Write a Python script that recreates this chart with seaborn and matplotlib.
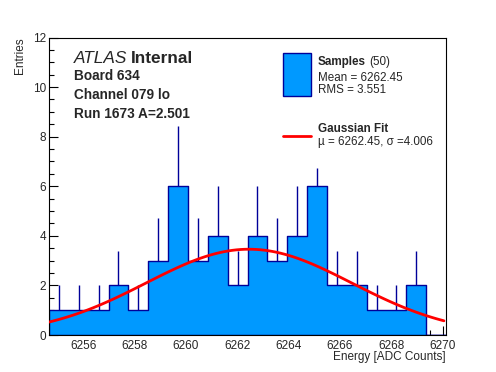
import numpy as np
import pandas as pd
import matplotlib
matplotlib.use("Agg")
import matplotlib.pyplot as plt
import seaborn as sns
from matplotlib.patches import Rectangle
from matplotlib.lines import Line2D
from matplotlib.ticker import MultipleLocator, ScalarFormatter

# ---------------- data ----------------
bin_low = 6254.66
bin_width = 0.7735
counts = [1, 1, 1, 2, 1, 3, 6, 3, 4, 2, 4, 3, 4, 6, 2, 2, 1, 1, 2, 0]
err_up = [1.0, 1.0, 1.0, 1.39, 1.0, 1.73, 2.43, 1.73, 2.0, 1.39,
          2.0, 1.73, 2.0, 0.75, 1.39, 1.39, 1.0, 1.0, 1.39, 0.0]
fit_mu = 6262.45
fit_sigma = 4.006
fit_amp = 3.46
x_max = 6270.13
x_ticks = [6256, 6258, 6260, 6262, 6264, 6266, 6268, 6270]
y_ticks = [0, 2, 4, 6, 8, 10, 12]

header_lines = ["Board 634", "Channel 079 lo", "Run 1673 A=2.501"]
legend_samples = ("Samples", "(50)", "Mean = 6262.45", "RMS = 3.551")
legend_fit = ("Gaussian Fit", "\u00b5 = 6262.45, \u03c3 =4.006")

FILL = "#0099ff"
EDGE = "#000099"

# ---------------- style ----------------
sns.set_style("ticks")
plt.rcParams["font.family"] = ["Liberation Sans", "DejaVu Sans"]

W, H = 496, 372
fig = plt.figure(figsize=(W / 100, H / 100), dpi=100)
ax = fig.add_axes([49 / W, 1 - 335 / H, 397 / W, 297.5 / H])


def fx(x):
    return x / W


def fy(y):
    return 1 - y / H


n = len(counts)
edges = bin_low + bin_width * np.arange(n + 1)
centers = (edges[:-1] + edges[1:]) / 2
df = pd.DataFrame({"energy": centers, "entries": counts, "err": err_up})

sns.histplot(data=df, x="energy", weights="entries", bins=n,
             binrange=(edges[0], edges[-1]),
             element="step", fill=True, color=FILL, edgecolor=EDGE,
             linewidth=1.0, alpha=1.0, ax=ax)

nz = df[df["entries"] > 0]
ax.vlines(nz["energy"], nz["entries"], nz["entries"] + nz["err"],
          color=EDGE, linewidth=1.0, zorder=3)

xs = np.linspace(bin_low, 6270.05, 100)
ys = fit_amp * np.exp(-0.5 * ((xs - fit_mu) / fit_sigma) ** 2)
sns.lineplot(x=xs, y=ys, color="red", linewidth=2.0, ax=ax, zorder=4,
             sort=False, estimator=None)

ax.set_xlim(bin_low, x_max)
ax.set_ylim(0, 12)
ax.set_xticks(x_ticks)
ax.set_yticks(y_ticks)
ax.xaxis.set_minor_locator(MultipleLocator(0.5))
ax.yaxis.set_minor_locator(MultipleLocator(0.5))
fmt = ScalarFormatter(useOffset=False)
ax.xaxis.set_major_formatter(fmt)
ax.tick_params(which="major", direction="in", length=6.5, width=0.8,
               labelsize=8.5, top=False, right=False, color="black")
ax.tick_params(which="minor", direction="in", length=3.3, width=0.8,
               top=False, right=False, color="black")
ax.tick_params(axis="x", which="major", pad=3.3)
ax.tick_params(axis="y", which="major", pad=2.2)
for s in ax.spines.values():
    s.set_visible(True)
    s.set_linewidth(0.8)
    s.set_color("black")

ax.set_xlabel("Energy [ADC Counts]", fontsize=8.5, loc="right")
ax.xaxis.set_label_coords(1.0, -0.054)
ax.set_ylabel("Entries", fontsize=8.5, loc="top")
ax.yaxis.set_label_coords(-0.058, 1.0)

# ---------------- header text ----------------
fig.canvas.draw()
r = fig.canvas.get_renderer()
t1 = fig.text(fx(74), fy(62.7), "ATLAS", fontsize=12.4, style="italic",
              va="baseline", ha="left")
bb = t1.get_window_extent(r)
fig.text(bb.x1 / W + 4 / W, fy(62.7), "Internal", fontsize=12.4,
         weight="bold", va="baseline", ha="left")
for txt, yb in zip(header_lines, [80.3, 99.3, 118.3]):
    fig.text(fx(74), fy(yb), txt, fontsize=9.8, weight="bold",
             va="baseline", ha="left")

# ---------------- legend ----------------
fig.add_artist(Rectangle((fx(283.3), fy(96)), 27.7 / W, 42.7 / H,
                         transform=fig.transFigure, facecolor=FILL,
                         edgecolor=EDGE, linewidth=1.0))
fig.add_artist(Line2D([fx(283), fx(311)], [fy(135.5), fy(135.5)],
                      transform=fig.transFigure, color="red", linewidth=2.0))
LFS = 8.4
ts = fig.text(fx(318), fy(65), legend_samples[0], fontsize=LFS,
              weight="bold", va="baseline", ha="left")
bb = ts.get_window_extent(r)
fig.text(bb.x1 / W + 3 / W, fy(65), legend_samples[1], fontsize=LFS,
         va="baseline", ha="left")
fig.text(fx(318), fy(81), legend_samples[2], fontsize=LFS,
         va="baseline", ha="left")
fig.text(fx(318), fy(93.3), legend_samples[3], fontsize=LFS,
         va="baseline", ha="left")
fig.text(fx(318), fy(132.3), legend_fit[0], fontsize=LFS, weight="bold",
         va="baseline", ha="left")
fig.text(fx(318), fy(144.5), legend_fit[1], fontsize=LFS,
         va="baseline", ha="left")

fig.savefig("out.png", dpi=100, facecolor="white")
